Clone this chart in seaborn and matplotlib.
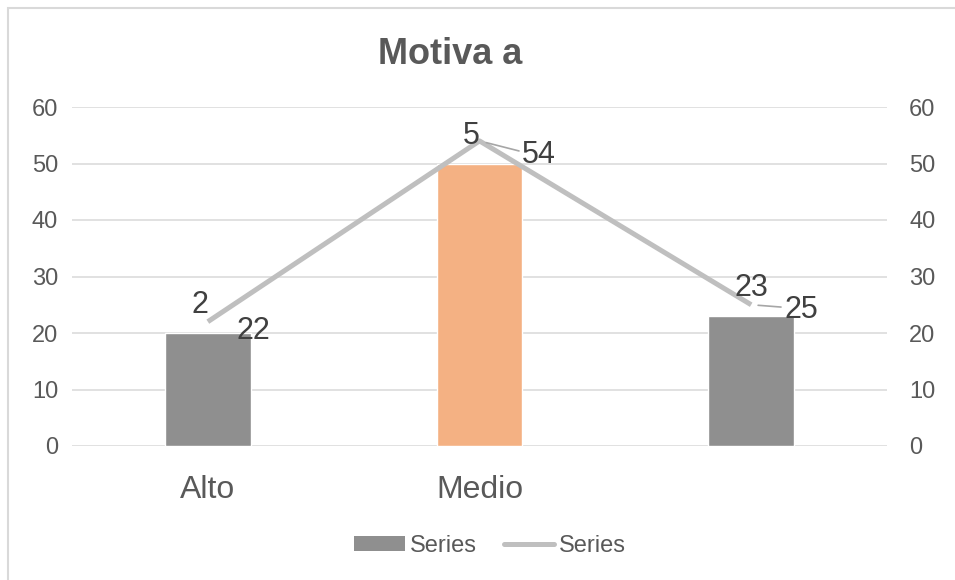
import numpy as np
import matplotlib
matplotlib.use("Agg")
import matplotlib.pyplot as plt
from matplotlib.patches import Rectangle, Patch
from matplotlib.lines import Line2D
import seaborn as sns

# Chart data
categories = ["Alto", "Medio", ""]
bar_values = [20, 50, 23]
line_values = [22, 54, 25]
bar_labels = ["2", "5", "23"]      # labels as shown (truncated in the original)
line_labels = ["22", "54", "25"]
legend_labels = ["Series", "Series"]
y_ticks = [0, 10, 20, 30, 40, 50, 60]

bar_colors = ["#8f8f8f", "#f4b183", "#8f8f8f"]
line_color = "#bfbfbf"
text_grey = "#595959"
label_grey = "#404040"

sns.set_theme(style="white")
plt.rcParams["font.family"] = ["Liberation Sans", "DejaVu Sans"]

fig = plt.figure(figsize=(9.55, 5.8), dpi=100)
ax = fig.add_axes([72 / 955, 1 - 446 / 580, 815 / 955, 339 / 580])

sns.barplot(x=categories, y=bar_values, hue=categories, palette=bar_colors,
            legend=False, width=0.316, saturation=1, ax=ax)
ax.set_xlim(-0.5, len(categories) - 0.5)
ax.set_ylim(0, 60)
ax.set_yticks(y_ticks)
ax.grid(axis="y", color="#d9d9d9", linewidth=1.1)
ax.set_axisbelow(True)
for s in ax.spines.values():
    s.set_visible(False)
ax.tick_params(axis="y", length=0, pad=10, labelsize=17, labelcolor=text_grey)
ax.tick_params(axis="x", length=0, pad=21, labelsize=23, labelcolor=text_grey)
ax.set_xlabel("")
ax.set_ylabel("")

# secondary axis with the line
ax2 = ax.twinx()
x_pos = np.arange(len(categories))
sns.lineplot(x=x_pos, y=line_values, color=line_color, linewidth=3.6,
             ax=ax2, solid_capstyle="butt")
ax2.set_ylim(0, 60)
ax2.set_yticks(y_ticks)
ax2.grid(False)
for s in ax2.spines.values():
    s.set_visible(False)
ax2.tick_params(axis="y", length=0, pad=16, labelsize=17, labelcolor=text_grey)
ax2.set_ylabel("")

# bar data labels
for i, (v, lab) in enumerate(zip(bar_values, bar_labels)):
    ax2.annotate(lab, xy=(i, v), xytext=(-12, 20), textcoords="offset points",
                 ha="left", va="center", fontsize=22, color=label_grey)

# line data labels (moved like in the original, with leader lines)
offsets = [(33, -6.5), (43, -10), (36, -4)]
leaders = [False, True, True]
for i, (v, lab) in enumerate(zip(line_values, line_labels)):
    arrow = None
    if leaders[i]:
        arrow = dict(arrowstyle="-", color="#a6a6a6", lw=1.2,
                     relpos=(0, 0.6), shrinkA=0, shrinkB=5)
    ax2.annotate(lab, xy=(i, v), xytext=offsets[i], textcoords="offset points",
                 ha="center", va="center", fontsize=22, color=label_grey,
                 arrowprops=arrow)

# title
fig.text(450 / 955, 1 - 55 / 580, "Motiva a", ha="center", va="center",
         fontsize=26, fontweight="bold", color=text_grey)

# legend
handles = [Patch(facecolor=bar_colors[0], edgecolor="none"),
           Line2D([0], [0], color=line_color, linewidth=3.6)]
fig.legend(handles, legend_labels, loc="center", bbox_to_anchor=(490 / 955, 1 - 546 / 580),
           ncol=2, frameon=False, fontsize=17, labelcolor=text_grey,
           handlelength=2.15, handleheight=0.63, columnspacing=1.15, handletextpad=0.2)

# chart border
fig.patches.append(Rectangle((8 / 955, -0.1), 1.2, 1.1 - 8 / 580, transform=fig.transFigure,
                             fill=False, edgecolor="#d9d9d9", linewidth=1.5))

fig.savefig("out.png", dpi=100)
